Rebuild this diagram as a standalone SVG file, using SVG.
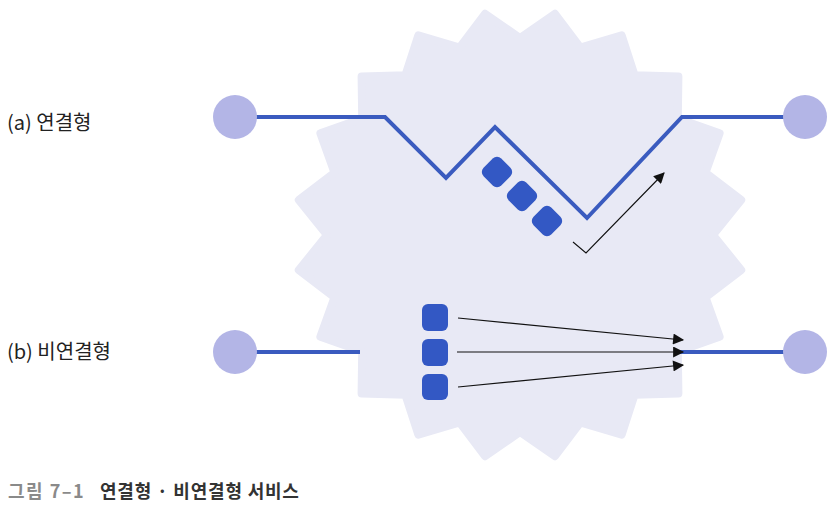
<svg xmlns="http://www.w3.org/2000/svg" width="835" height="511" viewBox="0 0 835 511">
<style>
.lbl{font-family:"Noto Sans CJK KR","Liberation Sans",sans-serif;font-size:20px;fill:#222}
.cap{font-family:"Noto Sans CJK KR","Liberation Sans",sans-serif;font-size:18px;font-weight:bold;fill:#333;letter-spacing:0.8px}
.end{fill:#b3b5e6}
.wire{fill:none;stroke:#3a5bbf;stroke-width:4;stroke-linejoin:miter}
.pkt{fill:#3358c4}
.arr{fill:none;stroke:#111;stroke-width:1.1}
</style>
<defs>
<marker id="ah" viewBox="0 0 10 10" refX="9" refY="5" markerWidth="13" markerHeight="11" markerUnits="userSpaceOnUse" orient="auto">
<path d="M0,0 L10,5 L0,10 Z" fill="#111"/>
</marker>
</defs>
<g id="cloud">
<polygon fill="#e8e9f5" stroke="#e8e9f5" stroke-width="8" stroke-linejoin="round" points="520,38 555.0,13.8 580.3,47.5 621.7,35.4 634.6,75.2 678.4,76.6 677.8,118.4 719.6,133.3 705.5,172.7 741.2,200.0 713,235 741.2,270.0 705.5,297.3 719.6,336.7 677.8,351.6 678.4,393.4 634.6,394.8 621.7,434.6 580.3,422.5 555.0,456.2 520,432 485.0,456.2 459.7,422.5 418.3,434.6 405.4,394.8 361.6,393.4 362.2,351.6 320.4,336.7 334.5,297.3 298.8,270.0 327,235 298.8,200.0 334.5,172.7 320.4,133.3 362.2,118.4 361.6,76.6 405.4,75.2 418.3,35.4 459.7,47.5 485.0,13.8"/>
</g>
<g id="connectors">
<polyline class="wire" points="235,117 385,117 446,178 495,127 587,218 682,117 805,117"/>
<line class="wire" x1="235" y1="352" x2="360" y2="352"/>
<line class="wire" x1="680" y1="352" x2="805" y2="352"/>
<polyline class="arr" points="573,242 586,253 664,173" marker-end="url(#ah)"/>
<line class="arr" x1="458" y1="318" x2="683" y2="340" marker-end="url(#ah)"/>
<line class="arr" x1="457" y1="352" x2="683" y2="352" marker-end="url(#ah)"/>
<line class="arr" x1="458" y1="387" x2="683" y2="365" marker-end="url(#ah)"/>
</g>
<g id="a-left"><circle class="end" cx="235" cy="117" r="22"/></g>
<g id="a-right"><circle class="end" cx="805" cy="117" r="22"/></g>
<g id="b-left"><circle class="end" cx="235" cy="352" r="22"/></g>
<g id="b-right"><circle class="end" cx="805" cy="352" r="22"/></g>
<g id="a-packets">
<rect class="pkt" x="-12.5" y="-12.5" width="25" height="25" rx="6" transform="translate(497,172) rotate(45)"/>
<rect class="pkt" x="-12.5" y="-12.5" width="25" height="25" rx="6" transform="translate(522,196) rotate(45)"/>
<rect class="pkt" x="-12.5" y="-12.5" width="25" height="25" rx="6" transform="translate(547,221) rotate(45)"/>
</g>
<g id="b-packets">
<rect class="pkt" x="422" y="304" width="26" height="27" rx="6"/>
<rect class="pkt" x="422" y="339" width="26" height="27" rx="6"/>
<rect class="pkt" x="422" y="374" width="26" height="26" rx="6"/>
</g>
<g id="label-a"><text class="lbl" x="7" y="130">(a) 연결형</text></g>
<g id="label-b"><text class="lbl" x="7" y="359">(b) 비연결형</text></g>
<g id="caption"><text class="cap" x="8" y="498"><tspan fill="#8a8a8a" letter-spacing="1.5px">그림 7–1</tspan><tspan x="100">연결형 · 비연결형 서비스</tspan></text></g>
</svg>
